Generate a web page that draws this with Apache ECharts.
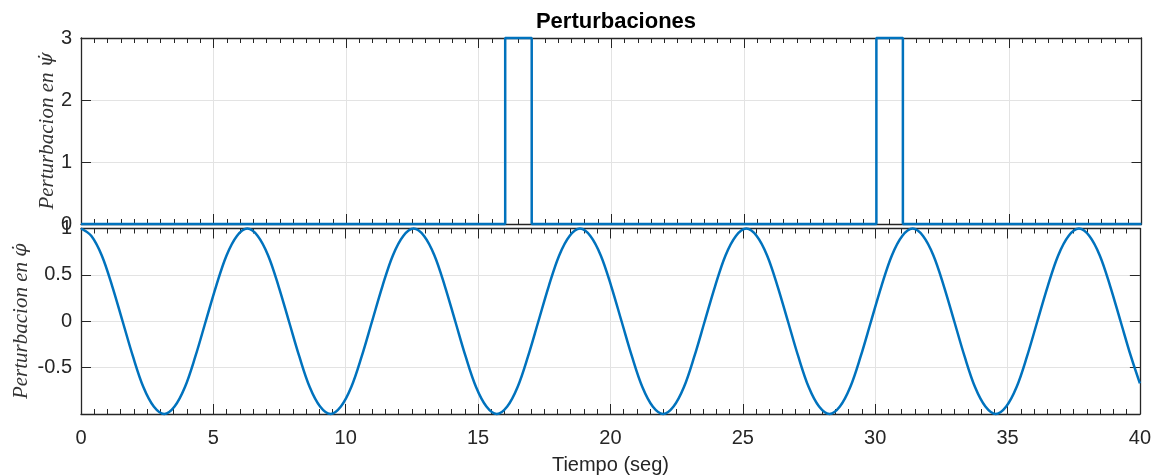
<!DOCTYPE html>
<html>
<head>
<meta charset="utf-8">
<script src="https://cdn.jsdelivr.net/npm/echarts@6/dist/echarts.min.js"></script>
<style>
  html, body { margin: 0; padding: 0; background: #fff; }
  #chart { width: 1154px; height: 476px; }
</style>
</head>
<body>
<div id="chart"></div>
<script>
// ---- Data ----
// Top: perturbation in psi-dot (step pulses)
const psiTime  = [0, 16, 16, 17, 17, 30, 30, 31, 31, 40];
const psiValue = [0, 0, 3, 3, 0, 0, 3, 3, 0, 0];

// Bottom: perturbation in phi-dot (at fixed time samples)
const phiTime = [
  0, 0.393, 0.785, 1.178, 1.571, 1.963, 2.356, 2.749, 3.142, 3.534,
  3.927, 4.320, 4.712, 5.105, 5.498, 5.890, 6.283, 6.676, 7.069, 7.461,
  7.854, 8.247, 8.639, 9.032, 9.425, 9.817, 10.210, 10.603, 10.996, 11.388,
  11.781, 12.174, 12.566, 12.959, 13.352, 13.744, 14.137, 14.530, 14.923, 15.315,
  15.708, 16.101, 16.493, 16.886, 17.279, 17.671, 18.064, 18.457, 18.850, 19.242,
  19.635, 20.028, 20.420, 20.813, 21.206, 21.598, 21.991, 22.384, 22.777, 23.169,
  23.562, 23.955, 24.347, 24.740, 25.133, 25.525, 25.918, 26.311, 26.704, 27.096,
  27.489, 27.882, 28.274, 28.667, 29.060, 29.452, 29.845, 30.238, 30.631, 31.023,
  31.416, 31.809, 32.201, 32.594, 32.987, 33.379, 33.772, 34.165, 34.558, 34.950,
  35.343, 35.736, 36.128, 36.521, 36.914, 37.306, 37.699, 38.092, 38.485, 38.877,
  39.270, 39.663, 40
];
const phiValue = [
  1, 0.92, 0.71, 0.38, 0, -0.38, -0.71, -0.92, -1, -0.92,
  -0.71, -0.38, 0, 0.38, 0.71, 0.92, 1, 0.92, 0.71, 0.38,
  0, -0.38, -0.71, -0.92, -1, -0.92, -0.71, -0.38, 0, 0.38,
  0.71, 0.92, 1, 0.92, 0.71, 0.38, 0, -0.38, -0.71, -0.92,
  -1, -0.92, -0.71, -0.38, 0, 0.38, 0.71, 0.92, 1, 0.92,
  0.71, 0.38, 0, -0.38, -0.71, -0.92, -1, -0.92, -0.71, -0.38,
  0, 0.38, 0.71, 0.92, 1, 0.92, 0.71, 0.38, 0, -0.38,
  -0.71, -0.92, -1, -0.92, -0.71, -0.38, 0, 0.38, 0.71, 0.92,
  1, 0.92, 0.71, 0.38, 0, -0.38, -0.71, -0.92, -1, -0.92,
  -0.71, -0.38, 0, 0.38, 0.71, 0.92, 1, 0.92, 0.71, 0.38,
  0, -0.38, -0.67
];

const xTicks = [0, 5, 10, 15, 20, 25, 30, 35, 40];
const topYTicks = [0, 1, 2, 3];
const bottomYTicks = [-0.5, 0, 0.5, 1];   // -1 is not labelled in the reference

const titleText = 'Perturbaciones';
const xName = 'Tiempo (seg)';
const yNamePrefix = 'Perturbacion en ';
const topYSymbol = '\u03C8\u0307';
const bottomYSymbol = '\u03C6\u0307';

// ---- Styles ----
const AX = '#262626';
const GRID = '#e3e3e3';
const LINE = '#0072BD';
const SANS = '"Liberation Sans", Arial, Helvetica, sans-serif';
const SERIF = '"Liberation Serif", "Times New Roman", serif';
const SYM = '"DejaVu Serif", serif';

const grids = [
  { left: 81, right: 12.5, top: 38, height: 186 },
  { left: 81, right: 12.5, top: 228.5, height: 185.5 }
];

function xAxisCfg(gridIndex, position, showLabels, showSplit, name) {
  return {
    type: 'value', gridIndex, position,
    min: xTicks[0], max: xTicks[xTicks.length - 1], interval: xTicks[1] - xTicks[0],
    axisLine: { show: true, onZero: false, lineStyle: { color: AX, width: 1.3 } },
    axisTick: { show: true, inside: true, length: 10, lineStyle: { color: AX, width: 1 } },
    minorTick: { show: true, splitNumber: 10, length: 5, lineStyle: { color: AX, width: 1 } },
    axisLabel: { show: showLabels, color: AX, fontFamily: SANS, fontSize: 20, margin: 14 },
    splitLine: { show: showSplit, lineStyle: { color: GRID, width: 1 } },
    name: name || '', nameLocation: 'middle', nameGap: 41, nameMoveOverlap: false,
    nameTextStyle: { color: AX, fontFamily: SANS, fontSize: 20 }
  };
}

function yAxisCfg(gridIndex, position, ticks, minVal, showLabels, showSplit, symbol, nameGap) {
  const step = ticks[1] - ticks[0];
  return {
    type: 'value', gridIndex, position,
    min: minVal, max: ticks[ticks.length - 1], interval: step,
    axisLine: { show: true, onZero: false, lineStyle: { color: AX, width: 1.3 } },
    axisTick: { show: true, inside: true, length: 10, lineStyle: { color: AX, width: 1 } },
    axisLabel: {
      show: showLabels, color: AX, fontFamily: SANS, fontSize: 20, margin: 9,
      formatter: v => (ticks.indexOf(v) >= 0 ? String(v) : '')
    },
    splitLine: { show: showSplit, lineStyle: { color: GRID, width: 1 } },
    name: symbol ? '{a|' + yNamePrefix + '}{b|' + symbol + '}' : '',
    nameLocation: 'middle', nameGap: nameGap || 0, nameMoveOverlap: false,
    nameTextStyle: {
      color: '#333', fontFamily: SERIF, fontStyle: 'italic', fontSize: 21,
      rich: {
        a: { color: '#333', fontFamily: SERIF, fontStyle: 'italic', fontSize: 21 },
        b: { color: '#333', fontFamily: SYM, fontStyle: 'italic', fontSize: 19 }
      }
    }
  };
}

const chart = echarts.init(document.getElementById('chart'), null, { renderer: 'canvas' });
chart.setOption({
  animation: false,
  backgroundColor: '#ffffff',
  title: {
    text: titleText, left: 611, top: 6, textAlign: 'center',
    textStyle: { color: '#000', fontFamily: SANS, fontWeight: 'bold', fontSize: 22 }
  },
  grid: grids,
  xAxis: [
    xAxisCfg(0, 'bottom', false, true),
    xAxisCfg(0, 'top', false, false),
    xAxisCfg(1, 'bottom', true, true, xName),
    xAxisCfg(1, 'top', false, false)
  ],
  yAxis: [
    yAxisCfg(0, 'left', topYTicks, 0, true, true, topYSymbol, 23),
    yAxisCfg(0, 'right', topYTicks, 0, false, false),
    yAxisCfg(1, 'left', bottomYTicks, -1, true, true, bottomYSymbol, 49),
    yAxisCfg(1, 'right', bottomYTicks, -1, false, false)
  ],
  series: [
    {
      type: 'line', xAxisIndex: 0, yAxisIndex: 0,
      data: psiTime.map((t, i) => [t, psiValue[i]]),
      showSymbol: false, clip: false,
      lineStyle: { color: LINE, width: 2.5 }
    },
    {
      type: 'line', xAxisIndex: 2, yAxisIndex: 2,
      data: phiTime.map((t, i) => [t, phiValue[i]]),
      showSymbol: false, clip: false, smooth: 0.35,
      lineStyle: { color: LINE, width: 2.5 }
    }
  ]
});
</script>
</body>
</html>
